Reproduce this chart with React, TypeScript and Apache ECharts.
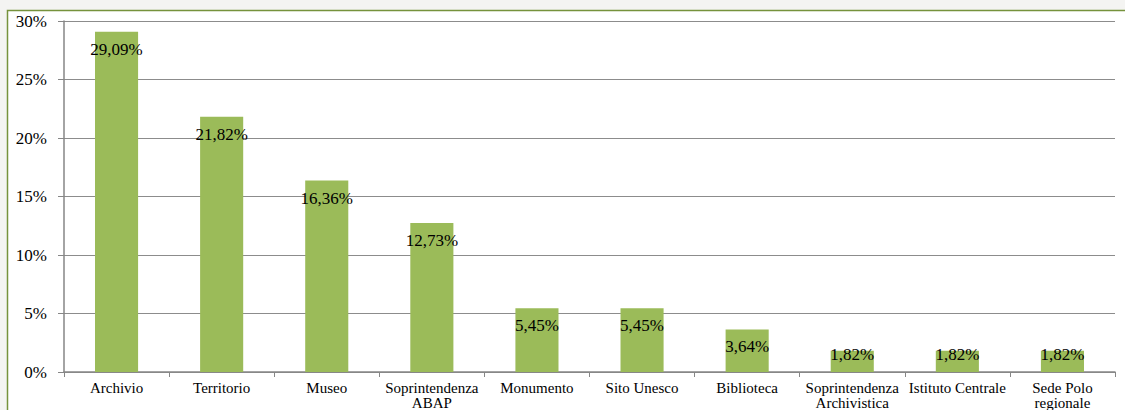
import React, { useEffect, useRef } from "react";
import * as echarts from "echarts";

const categories = [
  "Archivio",
  "Territorio",
  "Museo",
  "Soprintendenza\nABAP",
  "Monumento",
  "Sito Unesco",
  "Biblioteca",
  "Soprintendenza\nArchivistica",
  "Istituto Centrale",
  "Sede Polo\nregionale",
];
const shares = [29.09, 21.82, 16.36, 12.73, 5.45, 5.45, 3.64, 1.82, 1.82, 1.82];

const FONT = "Liberation Serif";

const fmt = (v: number) => v.toFixed(2).replace(".", ",") + "%";

export default function App() {
  const ref = useRef<HTMLDivElement>(null);

  useEffect(() => {
    if (!ref.current) return;
    const chart = echarts.init(ref.current, undefined, { renderer: "svg" });
    chart.setOption({
      animation: false,
      backgroundColor: "#f4f4f2",
      textStyle: { fontFamily: FONT },
      graphic: [
        {
          type: "rect",
          z: -10,
          silent: true,
          shape: { x: 7.5, y: 10.5, width: 1130, height: 420 },
          style: { fill: "#ffffff", stroke: "#76923c", lineWidth: 1.5 },
        },
      ],
      grid: { left: 64, right: 10, top: 21, bottom: 38, containLabel: false },
      xAxis: {
        type: "category",
        data: categories,
        axisLine: { lineStyle: { color: "#868686", width: 1.5 } },
        axisTick: { show: true, length: 5, lineStyle: { color: "#868686" } },
        axisLabel: {
          interval: 0,
          margin: 8,
          color: "#000",
          fontFamily: FONT,
          fontSize: 15,
          lineHeight: 15,
        },
      },
      yAxis: {
        type: "value",
        min: 0,
        max: 30,
        interval: 5,
        axisLine: { show: true, lineStyle: { color: "#868686", width: 1.5 } },
        axisTick: { show: true, length: 6, lineStyle: { color: "#868686" } },
        splitLine: { lineStyle: { color: "#8c8c8c", width: 1 } },
        axisLabel: {
          margin: 17,
          color: "#000",
          fontFamily: FONT,
          fontSize: 17,
          formatter: (v: number) => v + "%",
        },
      },
      series: [
        {
          type: "bar",
          barWidth: "41%",
          itemStyle: { color: "#9bbb59" },
          data: shares.map((v) => ({
            value: v,
            label:
              v < 3
                ? { position: "insideTop", distance: -5 }
                : { position: "insideTop", distance: 9 },
          })),
          label: {
            show: true,
            color: "#000",
            fontFamily: FONT,
            fontSize: 17,
            formatter: (p: any) => fmt(p.value),
          },
        },
      ],
    });
    return () => chart.dispose();
  }, []);

  return (
    <div
      ref={ref}
      style={{ position: "fixed", left: 0, top: 0, width: 1125, height: 410 }}
    />
  );
}
